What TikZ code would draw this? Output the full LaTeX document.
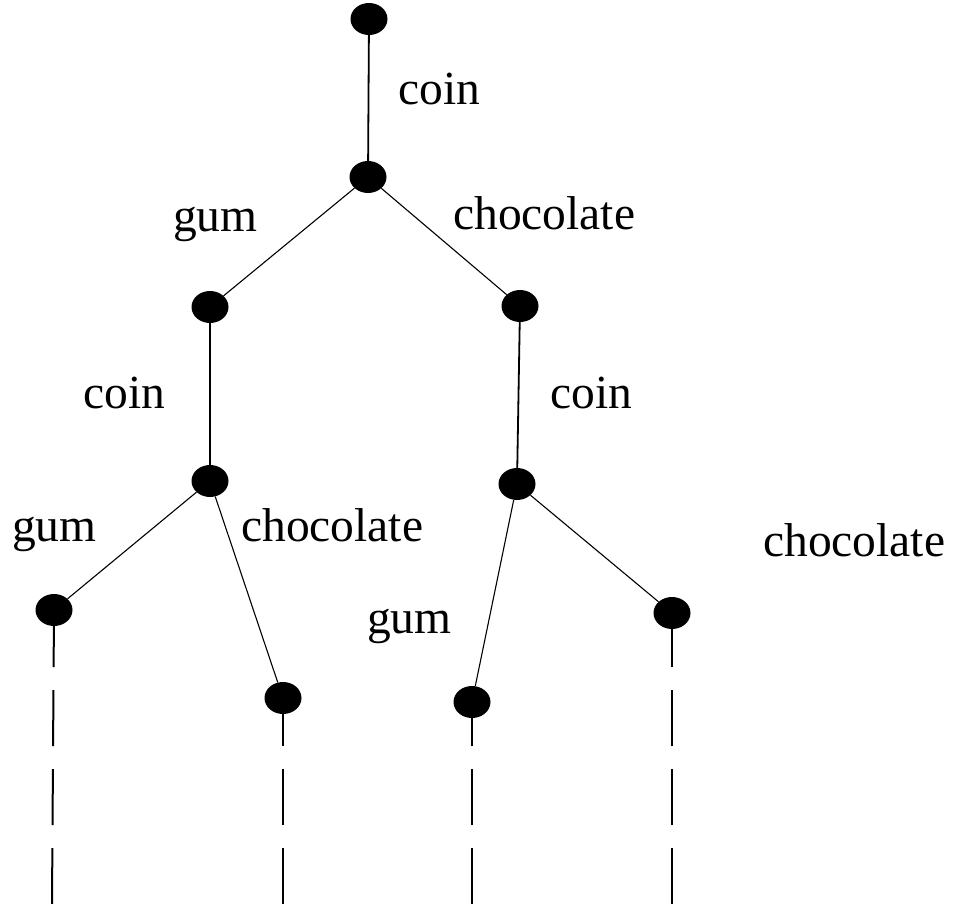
\documentclass[tikz,border=0pt]{standalone}
\usepackage{fontspec}
\setmainfont{Liberation Serif}
\usetikzlibrary{shapes.geometric}

\newcommand*\labelsize{\fontsize{47.5}{57}\selectfont}
\tikzset{state/.style={
    ellipse,
    fill=black,
    inner sep=0pt,
    minimum width=37,
    minimum height=32
},
event/.style={
    anchor=base west,
    inner sep=0pt,
    font=\labelsize
},
edge/.style={line width=1.1pt},
stem/.style={line width=1.8pt},
trail/.style={line width=2pt, dash pattern=on 56pt off 23pt}}

\begin{document}
\begin{tikzpicture}[x=1pt,y=-1pt]
    \useasboundingbox (0,0) rectangle (959,904);

    % First place the states of the tree.
    \node[state] (s0) at (369,19) {};
    \node[state] (s1) at (368,177) {};
    \node[state] (g1) at (210,307) {};
    \node[state] (c1) at (520,306) {};
    \node[state] (g2) at (210,481) {};
    \node[state] (c2) at (517,484) {};
    \node[state] (gg) at (54,610) {};
    \node[state] (gc) at (283,698) {};
    \node[state] (cg) at (472,702) {};
    \node[state] (cc) at (672,613) {};

    % Then the events, by their base line.
    \node[event] (e-coin0) at (398,105) {coin};
    \node[event] (e-gum1) at (173,232) {gum};
    \node[event] (e-choc1) at (453,230) {chocolate};
    \node[event] (e-coin1) at (83,408) {coin};
    \node[event] (e-coin2) at (550,408) {coin};
    \node[event] (e-gum2) at (12,541) {gum};
    \node[event] (e-choc2) at (241,541) {chocolate};
    \node[event] (e-gum3) at (367,633) {gum};
    \node[event] (e-choc3) at (763,556) {chocolate};

    % Edges.
    \draw[stem] (s0) -- (s1);
    \draw[edge] (s1) -- (g1);
    \draw[edge] (s1) -- (c1);
    \draw[stem] (g1) -- (g2);
    \draw[stem] (c1) -- (c2);
    \draw[edge] (g2) -- (gg);
    \draw[edge] (g2) -- (gc);
    \draw[edge] (c2) -- (cg);
    \draw[edge] (c2) -- (cc);

    % The runs go on below the picture.
    \foreach \leaf/\x in {gg/52,gc/283,cg/472,cc/672} {
        \coordinate (\leaf-end) at (\x,904);
        \draw[trail] (\leaf-end) -- (\leaf);
    }
\end{tikzpicture}
\end{document}
